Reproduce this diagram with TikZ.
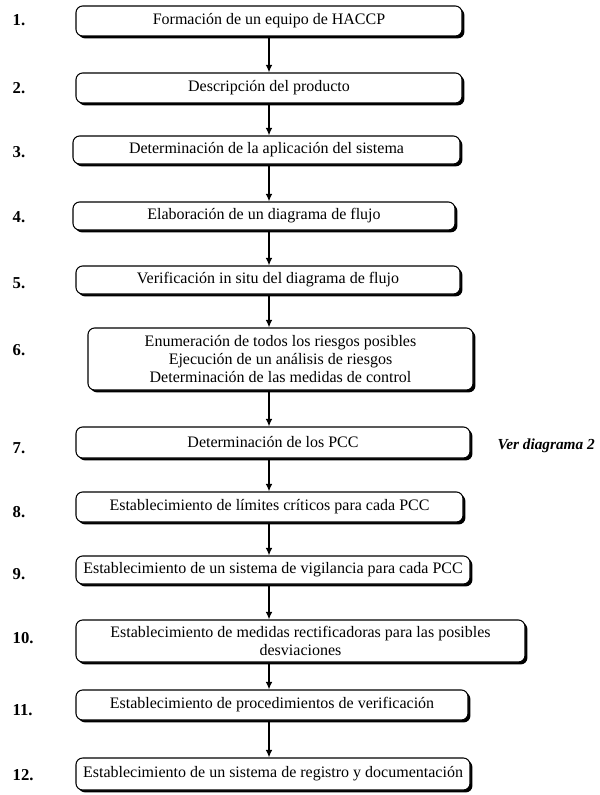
\documentclass[tikz,border=0pt]{standalone}
\usepackage{fontspec}
\setmainfont{Liberation Serif}
\usetikzlibrary{arrows.meta,positioning,shadows}

\begin{document}
\begin{tikzpicture}[
x=0.75pt, y=-0.75pt,
caja/.style={draw, thick, rounded corners=5pt, align=center, fill=white, font=\fontsize{12}{13.5}\selectfont, inner sep=1pt,
  drop shadow={shadow xshift=1.8pt, shadow yshift=-1.8pt, fill=black, opacity=1}},
numero/.style={anchor=west, font=\fontsize{12.5}{14}\selectfont\bfseries},
nota/.style={anchor=west, font=\fontsize{11.5}{13}\selectfont\bfseries\itshape},
flecha/.style={-{Latex[length=2mm,width=1.8mm]}, line width=1.4pt}
]
\useasboundingbox (0,0) rectangle (599,795);
\coordinate (eje) at (269,0);

\node[caja, minimum width=386*0.75pt, minimum height=30*0.75pt] (p1) at (269,21) {Formación de un equipo de HACCP};
\node[caja, minimum width=386*0.75pt, minimum height=30*0.75pt] (p2) at (269,88) {Descripción del producto};
\node[caja, minimum width=387*0.75pt, minimum height=28*0.75pt] (p3) at (266.5,150) {Determinación de la aplicación del sistema};
\node[caja, minimum width=382*0.75pt, minimum height=28*0.75pt] (p4) at (264,216) {Elaboración de un diagrama de flujo};
\node[caja, minimum width=384*0.75pt, minimum height=28*0.75pt] (p5) at (268,280) {Verificación in situ del diagrama de flujo};
\node[caja, minimum width=385*0.75pt, minimum height=62*0.75pt] (p6) at (280.5,359) {Enumeración de todos los riesgos posibles\\Ejecución de un análisis de riesgos\\Determinación de las medidas de control};
\node[caja, minimum width=394*0.75pt, minimum height=31*0.75pt] (p7) at (273,442.5) {Determinación de los PCC};
\node[caja, minimum width=387*0.75pt, minimum height=30*0.75pt] (p8) at (269.5,507) {Establecimiento de límites críticos para cada PCC};
\node[caja, minimum width=394*0.75pt, minimum height=28*0.75pt] (p9) at (273,570) {Establecimiento de un sistema de vigilancia para cada PCC};
\node[caja, minimum width=449*0.75pt, minimum height=42*0.75pt] (p10) at (300.5,641) {Establecimiento de medidas rectificadoras para las posibles\\desviaciones};
\node[caja, minimum width=392*0.75pt, minimum height=30*0.75pt] (p11) at (272,705) {Establecimiento de procedimientos de verificación};
\node[caja, minimum width=394*0.75pt, minimum height=32*0.75pt] (p12) at (273,774) {Establecimiento de un sistema de registro y documentación};

\node[numero] (n1) at (8,20) {1.};
\node[numero] (n2) at (8,88) {2.};
\node[numero] (n3) at (8,152) {3.};
\node[numero] (n4) at (8,217) {4.};
\node[numero] (n5) at (8,283) {5.};
\node[numero] (n6) at (8,350) {6.};
\node[numero] (n7) at (8,448) {7.};
\node[numero] (n8) at (8,512) {8.};
\node[numero] (n9) at (8,574) {9.};
\node[numero] (n10) at (8,638) {10.};
\node[numero] (n11) at (8,710) {11.};
\node[numero] (n12) at (8,775) {12.};
\node[nota] (ver) at (493,446) {Ver diagrama 2};

\draw[flecha] (p1.south -| eje) -- (p2.north -| eje);
\draw[flecha] (p2.south -| eje) -- (p3.north -| eje);
\draw[flecha] (p3.south -| eje) -- (p4.north -| eje);
\draw[flecha] (p4.south -| eje) -- (p5.north -| eje);
\draw[flecha] (p5.south -| eje) -- (p6.north -| eje);
\draw[flecha] (p6.south -| eje) -- (p7.north -| eje);
\draw[flecha] (p7.south -| eje) -- (p8.north -| eje);
\draw[flecha] (p8.south -| eje) -- (p9.north -| eje);
\draw[flecha] (p9.south -| eje) -- (p10.north -| eje);
\draw[flecha] (p10.south -| eje) -- (p11.north -| eje);
\draw[flecha] (p11.south -| eje) -- (p12.north -| eje);
\end{tikzpicture}
\end{document}
